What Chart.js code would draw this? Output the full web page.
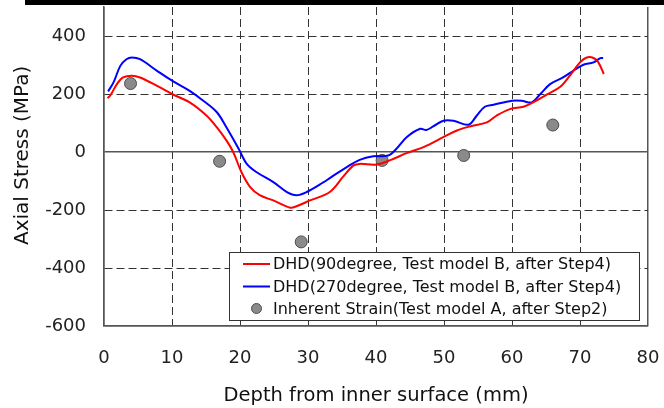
<!DOCTYPE html>
<html>
<head>
<meta charset="utf-8">
<script src="https://cdn.jsdelivr.net/npm/chart.js@4.4.1/dist/chart.umd.min.js"></script>
<style>
  html, body { margin: 0; padding: 0; background: #fff; }
  canvas { display: block; }
</style>
</head>
<body>
<canvas id="chart" width="664" height="408"></canvas>
<script>
// depth from inner surface (mm) and axial stress (MPa)
var redX = [0.5, 0.9, 1.9, 2.8, 4.1, 5.3, 7.8, 10.0, 12.6, 15.1, 16.6, 18.0, 19.0, 20.2, 21.5, 22.9, 24.9, 27.4, 28.3, 30.3, 33.2, 35.2, 36.7, 37.6, 40.1, 42.1, 44.5, 47.0, 49.9, 51.9, 53.8, 56.3, 57.7, 59.7, 61.7, 63.1, 65.1, 67.1, 68.5, 70.0, 71.0, 72.0, 72.7, 73.5];
var redY = [186, 194, 234, 257, 263, 257, 228, 200, 171, 125, 85, 40, 0, -69, -121, -149, -167, -192, -187, -167, -138, -84, -46, -41, -43, -28, -4, 17, 51, 74, 88, 102, 125, 148, 156, 171, 198, 225, 263, 309, 326, 324, 309, 269];

var blueX = [0.6, 1.4, 2.4, 3.3, 4.1, 5.3, 7.8, 10.0, 12.6, 14.6, 16.6, 18.0, 19.8, 21.0, 22.4, 24.9, 26.9, 28.3, 29.8, 32.3, 33.2, 35.7, 37.6, 39.6, 41.8, 43.0, 44.5, 46.5, 47.4, 48.4, 49.9, 51.4, 53.6, 54.8, 56.0, 57.3, 60.0, 61.4, 62.9, 64.1, 65.6, 67.5, 69.0, 70.5, 72.0, 73.0, 73.4];
var blueY = [209, 240, 297, 320, 326, 320, 280, 246, 211, 177, 137, 85, 11, -41, -69, -104, -138, -149, -138, -104, -90, -52, -27, -15, -12, 11, 51, 80, 76, 88, 108, 108, 94, 125, 156, 163, 177, 177, 171, 198, 234, 257, 280, 301, 309, 324, 324];

var dotX = [3.9, 17.0, 29.0, 40.9, 52.9, 66.0];
var dotY = [236, -32, -310, -29, -12, 93];

var seriesNames = [
  'DHD(90degree, Test model B, after Step4)',
  'DHD(270degree, Test model B, after Step4)',
  'Inherent Strain(Test model A, after Step2)'
];

function pairs(xs, ys) {
  return xs.map(function (x, i) { return { x: x, y: ys[i] }; });
}

var FONT = 'DejaVu Sans';

// solid line on the zero / frame ticks, dashed elsewhere
function isFrame(c, lo, hi) {
  return c.tick && (c.tick.value === 0 || c.tick.value === lo || c.tick.value === hi);
}

// pin the scale sizes so the plot area lands where the figure has it
function fixSize(prop, size) {
  return function (s) {
    s[prop] = size;
    s.paddingTop = 0;
    s.paddingBottom = 0;
    s.paddingLeft = 0;
    s.paddingRight = 0;
  };
}

var decor = {
  id: 'decor',
  beforeDraw: function (chart) {
    var ctx = chart.ctx;
    ctx.save();
    ctx.fillStyle = '#fff';
    ctx.fillRect(0, 0, chart.width, chart.height);
    ctx.restore();
  },
  afterDatasetsDraw: function (chart) {
    var ctx = chart.ctx;
    var ds = chart.data.datasets;
    ctx.save();
    // legend box
    ctx.fillStyle = '#fff';
    ctx.strokeStyle = '#333';
    ctx.lineWidth = 1;
    ctx.fillRect(229.5, 252.5, 410, 68);
    ctx.strokeRect(229.5, 252.5, 410, 68);
    ctx.font = '16px "' + FONT + '"';
    ctx.textBaseline = 'middle';
    ctx.textAlign = 'left';
    var rows = [264, 286.5, 308.5];
    ds.forEach(function (d, i) {
      var y = rows[i];
      if (d.showLine === false) {
        ctx.beginPath();
        ctx.arc(256.5, y, 5, 0, Math.PI * 2);
        ctx.fillStyle = d.backgroundColor;
        ctx.fill();
        ctx.strokeStyle = d.borderColor;
        ctx.lineWidth = 1;
        ctx.stroke();
      } else {
        ctx.beginPath();
        ctx.moveTo(243, y);
        ctx.lineTo(270, y);
        ctx.strokeStyle = d.borderColor;
        ctx.lineWidth = 2;
        ctx.stroke();
      }
      ctx.fillStyle = '#111';
      ctx.fillText(d.label, 273, y + 1);
    });
    ctx.restore();
  },
  afterDraw: function (chart) {
    var ctx = chart.ctx;
    ctx.save();
    // black rule along the top edge
    ctx.fillStyle = '#000';
    ctx.fillRect(25, 0, 639, 5);
    // axis titles
    ctx.fillStyle = '#111';
    ctx.font = '19.5px "' + FONT + '"';
    ctx.textAlign = 'center';
    ctx.textBaseline = 'alphabetic';
    ctx.fillText('Depth from inner surface (mm)', 376, 401);
    ctx.font = '20px "' + FONT + '"';
    ctx.translate(28, 245);
    ctx.rotate(-Math.PI / 2);
    ctx.textAlign = 'left';
    ctx.fillText('Axial Stress (MPa)', 0, 0);
    ctx.restore();
  }
};

new Chart(document.getElementById('chart'), {
  type: 'line',
  data: {
    datasets: [{
      label: seriesNames[0],
      data: pairs(redX, redY),
      borderColor: '#ff0000',
      borderWidth: 2,
      pointRadius: 0,
      tension: 0.35,
      fill: false
    }, {
      label: seriesNames[1],
      data: pairs(blueX, blueY),
      borderColor: '#0000ff',
      borderWidth: 2,
      pointRadius: 0,
      tension: 0.35,
      fill: false
    }, {
      label: seriesNames[2],
      data: pairs(dotX, dotY),
      showLine: false,
      backgroundColor: '#8a8a8a',
      borderColor: '#4d4d4d',
      borderWidth: 1,
      pointRadius: 6,
      pointHoverRadius: 6
    }]
  },
  options: {
    responsive: false,
    devicePixelRatio: 1,
    animation: false,
    events: [],
    layout: { padding: { left: 0, right: 16, top: 6, bottom: 0 } },
    plugins: {
      legend: { display: false },
      tooltip: { enabled: false }
    },
    scales: {
      x: {
        type: 'linear',
        min: 0,
        max: 80,
        afterFit: fixSize('height', 82),
        ticks: {
          stepSize: 10,
          padding: 22,
          color: '#222',
          font: { family: FONT, size: 18 }
        },
        grid: {
          drawTicks: false,
          color: function (c) { return isFrame(c, 0, 80) ? '#555' : '#333'; },
          lineWidth: function (c) { return isFrame(c, 0, 80) ? 1.5 : 1; }
        },
        border: {
          color: '#555',
          width: 1.5,
          dash: function (c) { return isFrame(c, 0, 80) ? [] : [8, 4]; }
        }
      },
      y: {
        min: -600,
        max: 500,
        afterFit: fixSize('width', 104),
        ticks: {
          stepSize: 200,
          includeBounds: false,
          padding: 18,
          color: '#222',
          font: { family: FONT, size: 18 }
        },
        grid: {
          drawTicks: false,
          color: function (c) { return isFrame(c, -600, 500) ? '#555' : '#333'; },
          lineWidth: function (c) { return isFrame(c, -600, 500) ? 1.5 : 1; }
        },
        border: {
          color: '#555',
          width: 1.5,
          dash: function (c) { return isFrame(c, -600, 500) ? [] : [8, 4]; }
        }
      }
    }
  },
  plugins: [decor]
});
</script>
</body>
</html>
